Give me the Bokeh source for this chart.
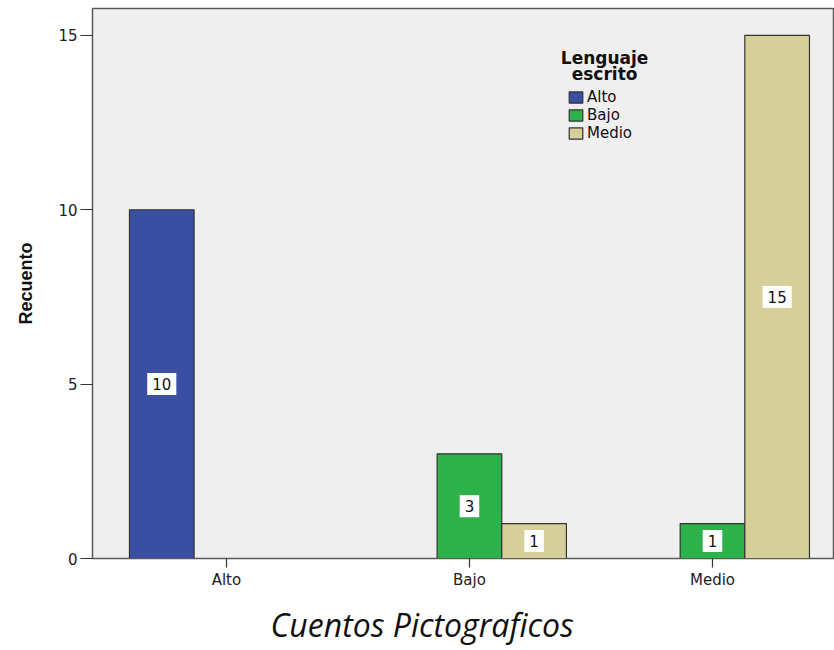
from bokeh.plotting import figure
from bokeh.models import (ColumnDataSource, Label, Legend, LegendItem,
                          FixedTicker, Range1d, Title)
from bokeh.embed import file_html
from bokeh.resources import INLINE

# ---- data ----
categories = ["Alto", "Bajo", "Medio"]          # Cuentos Pictograficos
series = ["Alto", "Bajo", "Medio"]              # Lenguaje escrito
counts_alto = [10, 0, 0]
counts_bajo = [0, 3, 1]
counts_medio = [0, 1, 15]
series_counts = [counts_alto, counts_bajo, counts_medio]
colors = ["#3a4fa1", "#2db24b", "#d7cf99"]
y_ticks = [0, 5, 10, 15]

FONT = "DejaVu Sans"

p = figure(frame_width=742, frame_height=550, output_backend="svg",
           toolbar_location=None, min_border_left=92, min_border_right=0,
           min_border_top=8, min_border_bottom=92,
           x_range=Range1d(-0.551, 2.502), y_range=Range1d(0, 15.77))

p.background_fill_color = "#efefef"
p.border_fill_color = "white"
p.outline_line_color = "#5a5a5a"
p.outline_line_width = 1.5
p.xgrid.visible = False
p.ygrid.visible = False

width = 0.266
offsets = [-width, 0, width]
renderers = []
label_x, label_y, label_t = [], [], []
for si, (name, vals, col) in enumerate(zip(series, series_counts, colors)):
    xs, tops = [], []
    for ci, v in enumerate(vals):
        if v > 0:
            xs.append(ci + offsets[si])
            tops.append(v)
            label_x.append(ci + offsets[si])
            label_y.append(v / 2)
            label_t.append(str(v))
    src = ColumnDataSource(dict(x=xs, top=tops))
    r = p.vbar(x="x", top="top", width=width, bottom=0, source=src,
               fill_color=col, line_color="#333333", line_width=1.2)
    renderers.append((name, r))

for lx, ly, lt in zip(label_x, label_y, label_t):
    p.add_layout(Label(x=lx, y=ly, text=lt, text_align="center",
                       text_baseline="middle", text_font=FONT,
                       text_font_size="15px", text_color="#111111",
                       background_fill_color="white", padding=5))

# legend
legend = Legend(items=[LegendItem(label=n, renderers=[r]) for n, r in renderers],
                location=(475, 416), background_fill_alpha=0, border_line_alpha=0,
                label_text_font=FONT, label_text_font_size="15px",
                label_text_color="#111111",
                glyph_width=17, glyph_height=14, label_height=18,
                spacing=0, padding=0, margin=0, label_standoff=3)
p.add_layout(legend)

for txt, yy in [("Lenguaje", 14.36), ("escrito", 13.88)]:
    p.add_layout(Label(x=1.556, y=yy, text=txt, text_align="center",
                       text_baseline="alphabetic", text_font=FONT,
                       text_font_style="bold", text_font_size="17px",
                       text_color="#111111"))

# axes
p.yaxis.ticker = FixedTicker(ticks=y_ticks)
p.yaxis.minor_tick_line_color = None
p.yaxis.major_tick_in = 0
p.yaxis.major_tick_out = 12
p.yaxis.major_tick_line_color = "#333333"
p.yaxis.major_tick_line_width = 1.2
p.yaxis.axis_line_color = "#5a5a5a"
p.yaxis.major_label_text_font = FONT
p.yaxis.major_label_text_font_size = "15px"
p.yaxis.major_label_text_color = "#222222"
p.yaxis.major_label_standoff = 3
p.yaxis.axis_label = "Recuento"
p.yaxis.axis_label_text_font = "Liberation Sans"
p.yaxis.axis_label_text_font_style = "bold"
p.yaxis.axis_label_text_font_size = "18px"
p.yaxis.axis_label_text_color = "#111111"
p.yaxis.axis_label_standoff = 19

p.xaxis.ticker = FixedTicker(ticks=[0, 1, 2])
p.xaxis.major_label_overrides = {0: categories[0], 1: categories[1], 2: categories[2]}
p.xaxis.minor_tick_line_color = None
p.xaxis.major_tick_in = 0
p.xaxis.major_tick_out = 9
p.xaxis.major_tick_line_color = "#333333"
p.xaxis.major_tick_line_width = 1.2
p.xaxis.axis_line_color = "#5a5a5a"
p.xaxis.major_label_text_font = FONT
p.xaxis.major_label_text_font_size = "15px"
p.xaxis.major_label_text_color = "#222222"
p.xaxis.major_label_standoff = 3

title = Title(text="Cuentos Pictograficos", align="left", offset=178,
              text_font="Open Sans", text_font_style="italic",
              text_font_size="32px", text_color="#111111", standoff=19)
p.add_layout(title, "below")

open("out.html", "w").write(file_html(p, INLINE))
